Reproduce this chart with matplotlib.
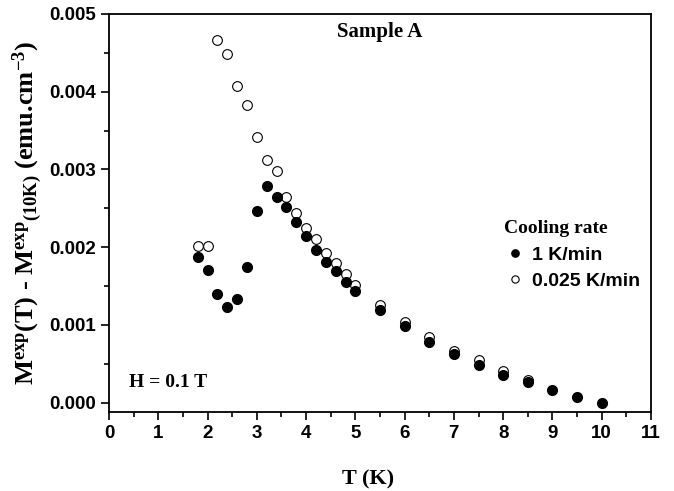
import matplotlib
matplotlib.use("Agg")
import matplotlib.pyplot as plt
from matplotlib.ticker import MultipleLocator, FormatStrFormatter

# ----- Data -----
t_fast = [1.8, 2.0, 2.2, 2.4, 2.6, 2.8, 3.0, 3.2, 3.4, 3.6, 3.8, 4.0, 4.2, 4.4,
          4.6, 4.8, 5.0, 5.5, 6.0, 6.5, 7.0, 7.5, 8.0, 8.5, 9.0, 9.5, 10.0]
m_fast = [0.00187, 0.00171, 0.00140, 0.00123, 0.00134, 0.00174, 0.00246, 0.00279,
          0.00265, 0.00252, 0.00232, 0.00215, 0.00196, 0.00181, 0.00169, 0.00155,
          0.00144, 0.00119, 0.00098, 0.00078, 0.00063, 0.00049, 0.00036, 0.00026,
          0.00016, 0.00007, 0.0]

t_slow = [1.8, 2.0, 2.2, 2.4, 2.6, 2.8, 3.0, 3.2, 3.4, 3.6, 3.8, 4.0, 4.2, 4.4,
          4.6, 4.8, 5.0, 5.5, 6.0, 6.5, 7.0, 7.5, 8.0, 8.5]
m_slow = [0.00201, 0.00201, 0.00467, 0.00448, 0.00408, 0.00383, 0.00342, 0.00312,
          0.00298, 0.00265, 0.00244, 0.00225, 0.00210, 0.00193, 0.00180, 0.00165,
          0.00152, 0.00126, 0.00104, 0.00085, 0.00067, 0.00055, 0.00041, 0.00029]

labels = ["1 K/min", "0.025 K/min"]

# ----- Fonts -----
plt.rcParams["font.family"] = "Liberation Sans"
plt.rcParams["mathtext.fontset"] = "custom"
plt.rcParams["mathtext.rm"] = "Liberation Serif:bold"
plt.rcParams["mathtext.bf"] = "Liberation Serif:bold"
plt.rcParams["mathtext.it"] = "Liberation Serif:bold"
serif = "Liberation Serif"

fig = plt.figure(figsize=(6.74, 4.91), dpi=100)
ax = fig.add_axes([0.1617, 0.1609, 0.8042, 0.8106])

ax.plot(t_fast, m_fast, "o", ms=7, mfc="black", mec="black", label=labels[0])
ax.plot(t_slow, m_slow, "o", ms=7, mfc="white", mec="black", mew=0.8,
        label=labels[1], zorder=1)

ax.set_xlim(0, 11)
ax.set_ylim(-0.00012, 0.005)
ax.xaxis.set_major_locator(MultipleLocator(1))
ax.xaxis.set_minor_locator(MultipleLocator(0.5))
ax.yaxis.set_major_locator(MultipleLocator(0.001))
ax.yaxis.set_minor_locator(MultipleLocator(0.0005))
ax.yaxis.set_major_formatter(FormatStrFormatter("%.3f"))

ax.tick_params(which="both", direction="out", top=False, right=False, width=1.2)
ax.tick_params(which="major", length=6, labelsize=13.5)
ax.tick_params(which="minor", length=3.5)
for lbl in ax.get_xticklabels() + ax.get_yticklabels():
    lbl.set_fontweight("bold")
for s in ax.spines.values():
    s.set_linewidth(1.3)

ax.set_xlabel("T (K)", fontsize=16, fontweight="bold", family=serif)
ax.xaxis.set_label_coords(0.478, -0.145)
ax.set_ylabel(r"M$^{exp}$(T) - M$^{exp}$$_{(10K)}$ (emu.cm$^{-3}$)",
              fontsize=19, fontweight="bold", family=serif, labelpad=3)

ax.text(0.5, 0.955, "Sample A", transform=ax.transAxes, ha="center", va="center",
        fontsize=15, fontweight="bold", family=serif)
ax.text(0.037, 0.073, "H = 0.1 T", transform=ax.transAxes, ha="left", va="center",
        fontsize=14, fontweight="bold", family=serif)

leg = ax.legend(loc="upper left", bbox_to_anchor=(0.729, 0.482), frameon=False,
                title="Cooling rate", markerscale=0.75, handlelength=1.13,
                handletextpad=0.3, labelspacing=0.45, borderpad=0,
                borderaxespad=0, prop={"weight": "bold", "size": 14},
                alignment="left")
leg.get_title().set_fontproperties({"family": serif, "weight": "bold", "size": 14})

fig.savefig("out.png", dpi=100)
